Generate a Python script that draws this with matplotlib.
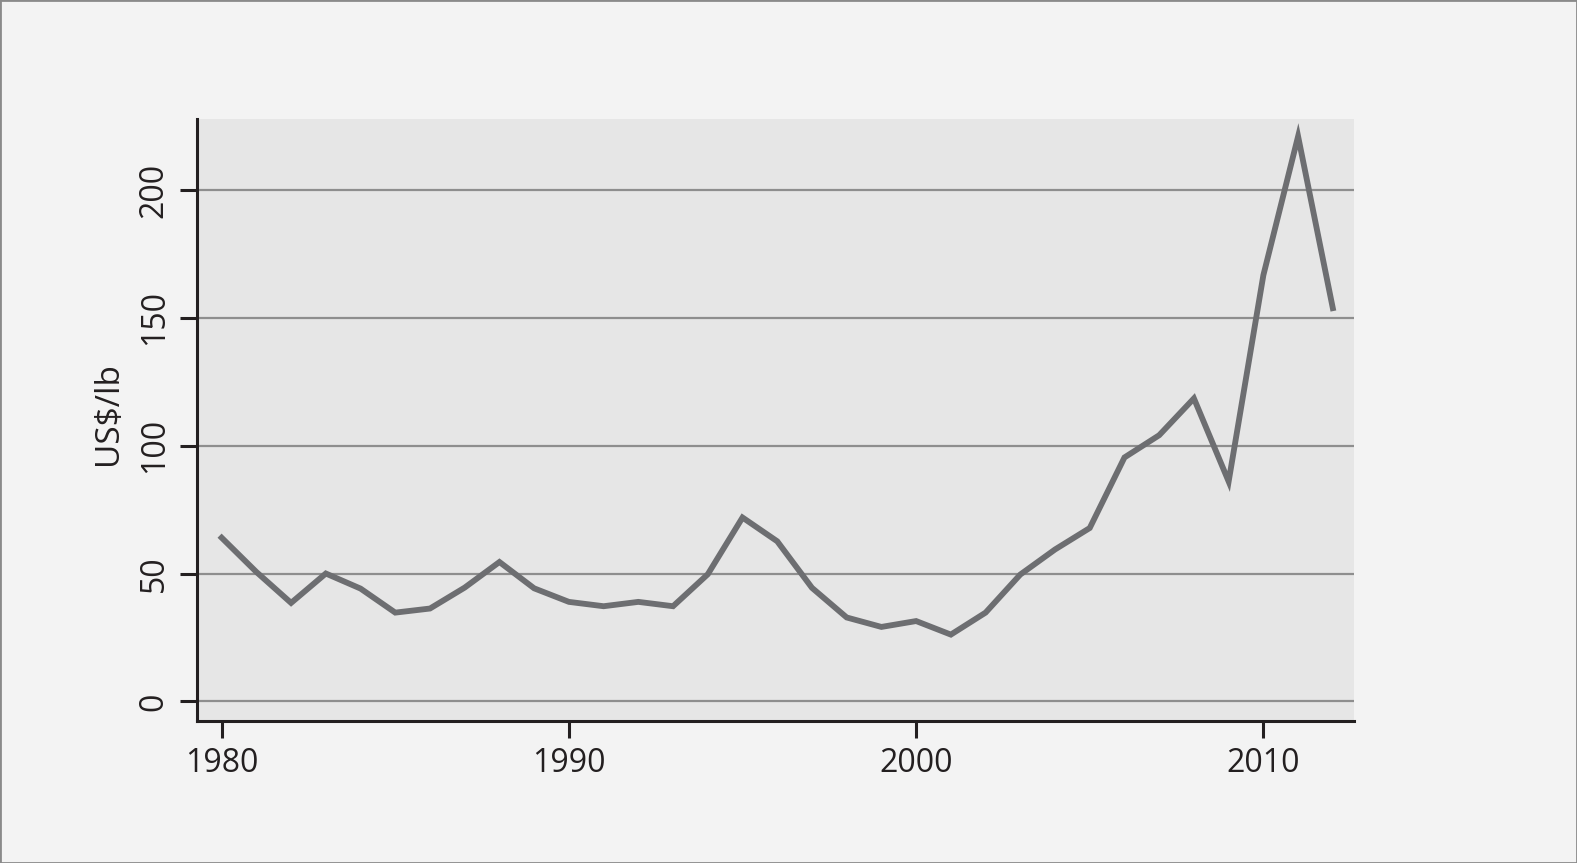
import matplotlib.pyplot as plt
from matplotlib.patches import Rectangle

# price series, US$/lb
years = list(range(1980, 2013))
price = [64.0, 50.6, 38.5, 50.0, 44.1, 34.7, 36.3, 44.5, 54.5, 44.2,
         38.9, 37.2, 38.9, 37.2, 49.7, 71.9, 62.6, 44.4, 32.8, 29.1,
         31.4, 26.1, 34.7, 49.6, 59.4, 67.8, 95.4, 104.1, 118.5, 86.0,
         166.7, 221.0, 153.8]

y_ticks = [0, 50, 100, 150, 200]
x_ticks = [1980, 1990, 2000, 2010]

plt.rcParams['font.family'] = ['Open Sans', 'DejaVu Sans']

W, H = 1577, 863
fig = plt.figure(figsize=(W / 100, H / 100), dpi=100, facecolor='#f3f3f3')
ax = fig.add_axes([197 / W, 1 - 721 / H, (1354 - 197) / W, (721 - 119) / H])
ax.set_facecolor('#e6e6e6')

# gridlines (horizontal only)
for t in y_ticks:
    ax.axhline(t, color='#8e8e8e', lw=1.6, zorder=1)

ax.plot(years, price, color='#6d6e71', lw=4.2, solid_joinstyle='miter', zorder=3)

ax.set_xlim(1979.29, 2012.61)
ax.set_ylim(-7.7, 227.8)
ax.set_xticks(x_ticks)
ax.set_yticks(y_ticks)
ax.tick_params(axis='both', direction='out', length=12, width=2.2,
               color='#231f20', labelsize=23, labelcolor='#231f20', pad=7)
ax.tick_params(axis='y', labelrotation=90)
for lab in ax.get_yticklabels():
    lab.set_va('center')

for s in ['top', 'right']:
    ax.spines[s].set_visible(False)
for s in ['left', 'bottom']:
    ax.spines[s].set_linewidth(2.2)
    ax.spines[s].set_color('#231f20')

ax.set_ylabel('US$/lb', fontsize=24, color='#231f20', va='center')
ax.yaxis.set_label_coords((108 - 197) / (1354 - 197), 0.51)

# thin frame round the whole figure
fig.patches.append(Rectangle((0, 0), 1, 1, transform=fig.transFigure,
                             fill=False, edgecolor='#8a8a8a', lw=2))

fig.savefig('out.png', dpi=100, facecolor=fig.get_facecolor())
